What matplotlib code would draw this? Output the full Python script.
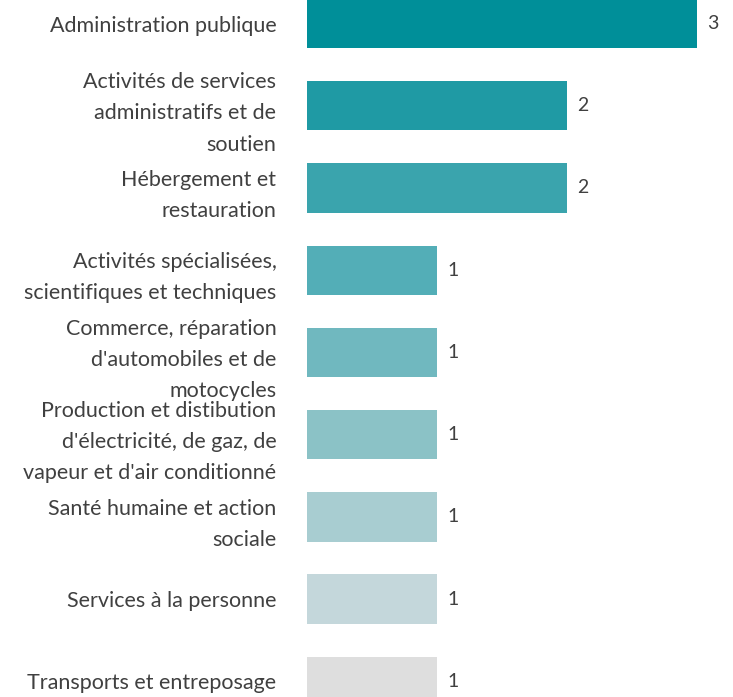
import matplotlib.pyplot as plt

# Data
categories = [
    "Administration publique",
    "Activités de services\nadministratifs et de\nsoutien",
    "Hébergement et\nrestauration",
    "Activités spécialisées,\nscientifiques et techniques",
    "Commerce, réparation\nd'automobiles et de\nmotocycles",
    "Production et distibution\nd'électricité, de gaz, de\nvapeur et d'air conditionné",
    "Santé humaine et action\nsociale",
    "Services à la personne",
    "Transports et entreposage",
]
values = [3, 2, 2, 1, 1, 1, 1, 1, 1]
colors = ["#008f99", "#1f9aa4", "#3aa4ad", "#53aeb7", "#70b8bf", "#8bc2c6",
          "#a8cdd1", "#c4d7db", "#dedede"]

plt.rcParams['font.family'] = ['Lato', 'DejaVu Sans']

fig = plt.figure(figsize=(7.33, 6.97), dpi=100)
ax = fig.add_axes([307 / 733, 0, 1 - 307 / 733, 1])

pos = list(range(len(categories)))
ax.barh(pos, values, height=0.6, color=colors)

for p, v in zip(pos, values):
    ax.text(v + 0.08, p, str(v), va='center', ha='left', fontsize=14, color='#404040')

ax.set_xlim(0, 426 / 130)
ax.set_ylim(8.19, -0.286)
ax.set_yticks(pos)
ax.set_yticklabels(categories, fontsize=15.5, color='#404040', linespacing=1.7)
ax.tick_params(axis='y', length=0, pad=22)
ax.set_xticks([])
for s in ax.spines.values():
    s.set_visible(False)

fig.savefig("out.png", dpi=100)
